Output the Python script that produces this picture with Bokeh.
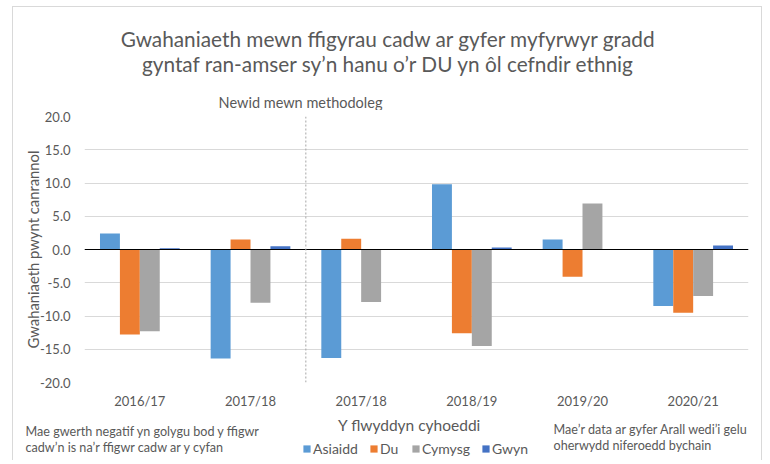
from bokeh.plotting import figure
from bokeh.layouts import column
from bokeh.models import (ColumnDataSource, FixedTicker, Span, Label, Legend, LegendItem,
                          NumeralTickFormatter, Range1d)
from bokeh.transform import dodge
from bokeh.embed import file_html
from bokeh.resources import INLINE

nan = float("nan")

years = ["2016/17", "2017/18", "2017/18", "2018/19", "2019/20", "2020/21"]
asiaidd = [2.4, -16.4, -16.3, 9.8, 1.5, -8.5]
du = [-12.8, 1.5, 1.6, -12.6, -4.1, -9.5]
cymysg = [-12.3, -8.0, -7.9, -14.5, 6.9, -7.0]
gwyn = [0.2, 0.5, nan, 0.3, nan, 0.6]
y_ticks = [-20, -15, -10, -5, 0, 5, 10, 15, 20]

series_names = ["Asiaidd", "Du", "Cymysg", "Gwyn"]
series_cols = ["asiaidd", "du", "cymysg", "gwyn"]
colors = ["#5B9BD5", "#ED7D31", "#A5A5A5", "#4472C4"]

title_lines = ["Gwahaniaeth mewn ffigyrau cadw ar gyfer myfyrwyr gradd",
               "gyntaf ran-amser sy\u2019n hanu o\u2019r DU yn \u00f4l cefndir ethnig"]
method_note = "Newid mewn methodoleg"
x_title = "Y flwyddyn cyhoeddi"
y_title = "Gwahaniaeth pwynt canrannol"
left_note = ["Mae gwerth negatif yn golygu bod y ffigwr",
             "cadw\u2019n is na\u2019r ffigwr cadw ar y cyfan"]
right_note = ["Mae\u2019r data ar gyfer Arall wedi\u2019i gelu",
              "oherwydd niferoedd bychain"]

FONT = "Lato"
TXT = "#595959"
X0, Y0 = 13, 7            # inner top-left of the bordered chart box (page px)
W = 748
TOP_H, MAIN_H, BOT_H = 103, 302, 48


def blank(h, y0):
    f = figure(width=W, height=h, output_backend="svg", toolbar_location=None,
               x_range=Range1d(X0, X0 + W), y_range=Range1d(y0 + h, y0),
               min_border=0, x_axis_location=None, y_axis_location=None)
    f.grid.visible = False
    f.outline_line_color = None
    f.frame_align = False
    return f


def lab(f, x, y, t, size, align="left"):
    f.add_layout(Label(x=x, y=y, text=t, text_font=FONT, text_font_size=size,
                       text_color=TXT, text_align=align, text_baseline="middle"))


# ---- top: title and methodology note
top = blank(TOP_H, Y0)
lab(top, 388, 38, title_lines[0], "20.8px", "center")
lab(top, 388, 63, title_lines[1], "20.8px", "center")
lab(top, 300, 102, method_note, "14.5px", "center")

# ---- main chart
xs = list(range(len(years)))
src = ColumnDataSource(dict(x=xs, asiaidd=asiaidd, du=du, cymysg=cymysg, gwyn=gwyn))

p = figure(width=W, height=MAIN_H, output_backend="svg", toolbar_location=None,
           x_range=Range1d(-0.5, len(years) - 0.5), y_range=Range1d(-20, 20),
           min_border_left=84 - X0, min_border_right=X0 + W - 748, min_border_top=6,
           min_border_bottom=30)
p.outline_line_color = None
p.frame_align = False

offsets = [-0.27, -0.09, 0.09, 0.27]
for col, c, off in zip(series_cols, colors, offsets):
    p.vbar(x=dodge("x", off), top=col, bottom=0, width=0.18, source=src,
           fill_color=c, line_color=None)

p.xgrid.grid_line_color = None
p.ygrid.grid_line_color = "#D9D9D9"

p.yaxis.ticker = FixedTicker(ticks=y_ticks)
p.yaxis.formatter = NumeralTickFormatter(format="0.0")
p.xaxis.ticker = FixedTicker(ticks=xs)
p.xaxis.major_label_overrides = {i: y for i, y in enumerate(years)}
for ax in (p.xaxis[0], p.yaxis[0]):
    ax.axis_line_color = None
    ax.major_tick_line_color = None
    ax.minor_tick_line_color = None
    ax.major_label_text_font = FONT
    ax.major_label_text_font_size = "13px"
    ax.major_label_text_color = TXT
p.xaxis.major_label_standoff = 4
p.yaxis.major_label_standoff = 8
p.yaxis.axis_label = y_title
p.yaxis.axis_label_text_font = FONT
p.yaxis.axis_label_text_font_size = "14.8px"
p.yaxis.axis_label_text_font_style = "normal"
p.yaxis.axis_label_text_color = TXT
p.yaxis.axis_label_standoff = -5

p.add_layout(Span(location=0, dimension="width", line_color="black", line_width=1))
p.add_layout(Span(location=1.5, dimension="height", line_color="#A6A6A6", line_width=1,
                  line_dash="2 2"))

# ---- bottom: axis title, notes, legend
bot = blank(BOT_H, Y0 + TOP_H + MAIN_H)
lab(bot, 409, 424, x_title, "15.5px", "center")
lab(bot, 25, 431, left_note[0], "12.6px")
lab(bot, 25, 447, left_note[1], "12.6px")
lab(bot, 553, 429, right_note[0], "12.6px")
lab(bot, 553, 445, right_note[1], "12.6px")

legend_src = ColumnDataSource(dict(x=[nan], top=[nan]))
items = []
for n, c in zip(series_names, colors):
    r = bot.vbar(x="x", top="top", width=1, source=legend_src,
                 fill_color=c, line_color=None)
    items.append(LegendItem(label=n, renderers=[r]))
legend = Legend(items=items, orientation="horizontal", location=(302 - X0, 3),
                glyph_width=9, glyph_height=9, label_standoff=2, spacing=11,
                padding=0, margin=0, border_line_color=None, background_fill_alpha=0,
                label_text_font=FONT, label_text_font_size="14px", label_text_color=TXT)
bot.add_layout(legend, "center")

layout = column(top, p, bot, spacing=0, margin=(6, 0, 0, 12),
                styles={"border-left": "1px solid #D9D9D9",
                        "border-right": "1px solid #D9D9D9",
                        "border-top": "1px solid #D9D9D9"})
open("out.html", "w").write(file_html(layout, INLINE))
